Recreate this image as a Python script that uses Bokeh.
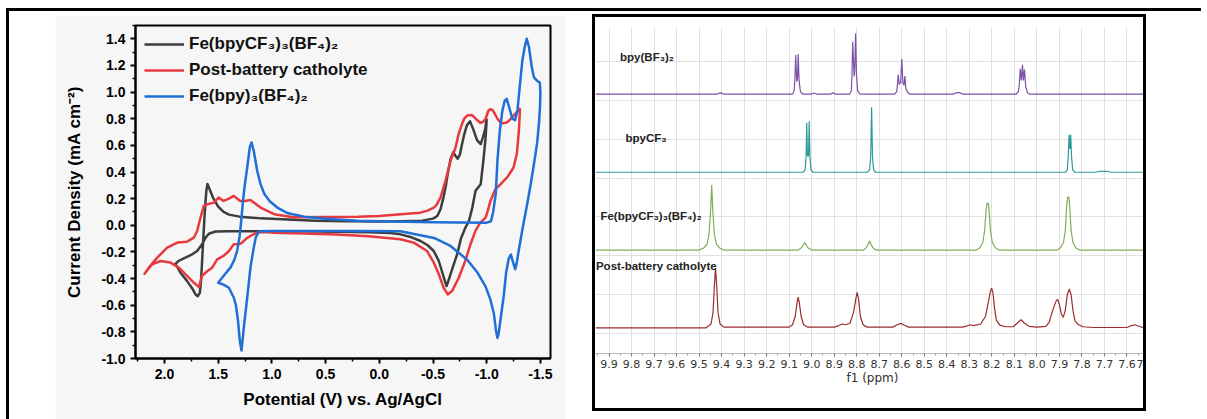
from bokeh.plotting import figure
from bokeh.layouts import row
from bokeh.models import (Range1d, FixedTicker, Legend, LegendItem, Label, Grid,
                          Spacer, NumeralTickFormatter)
from bokeh.embed import file_html
from bokeh.resources import INLINE

# ---------------- Cyclic voltammograms (potential in V, current density in mA cm-2) ----------------
fe_cf3_v = [-1.00, -0.985, -0.965, -0.944, -0.91, -0.875, -0.845, -0.815, -0.79, -0.765,
            -0.75, -0.73, -0.71, -0.69, -0.665, -0.64, -0.62, -0.595, -0.57, -0.54,
            -0.50, -0.40, -0.20, 0.00, 0.30, 0.60, 0.90, 1.10, 1.30, 1.40,
            1.45, 1.50, 1.55, 1.58, 1.60, 1.61, 1.62, 1.63, 1.64, 1.65,
            1.66, 1.671, 1.69, 1.711, 1.742, 1.789, 1.851, 1.898, 1.87, 1.82,
            1.742, 1.696, 1.65, 1.618, 1.587, 1.525, 1.40, 1.20, 1.00, 0.70,
            0.40, 0.10, -0.10, -0.197, -0.30, -0.384, -0.45, -0.507, -0.554, -0.60,
            -0.626, -0.65, -0.69, -0.725, -0.76, -0.80, -0.835, -0.866, -0.896, -0.944,
            -0.969, -0.99, -1.00]
fe_cf3_j = [0.80, 0.72, 0.66, 0.61, 0.64, 0.72, 0.78, 0.75, 0.68, 0.59,
            0.53, 0.50, 0.52, 0.55, 0.50, 0.40, 0.30, 0.20, 0.12, 0.07,
            0.05, 0.035, 0.03, 0.028, 0.03, 0.035, 0.045, 0.052, 0.065, 0.08,
            0.10, 0.14, 0.21, 0.27, 0.31, 0.26, 0.16, 0.03, -0.12, -0.27,
            -0.42, -0.507, -0.532, -0.519, -0.474, -0.419, -0.356, -0.289, -0.268, -0.248,
            -0.218, -0.193, -0.143, -0.093, -0.063, -0.047, -0.045, -0.045, -0.045, -0.045,
            -0.048, -0.052, -0.058, -0.068, -0.09, -0.118, -0.15, -0.193, -0.268, -0.39,
            -0.456, -0.40, -0.30, -0.218, -0.10, -0.02, 0.033, 0.133, 0.259, 0.309,
            0.485, 0.66, 0.80]

post_v = [-1.31, -1.28, -1.25, -1.22, -1.19, -1.15, -1.13, -1.10, -1.08, -1.055,
          -1.035, -1.015, -0.99, -0.965, -0.94, -0.91, -0.88, -0.86, -0.82, -0.79,
          -0.77, -0.74, -0.71, -0.663, -0.616, -0.57, -0.53, -0.507, -0.45, -0.384,
          -0.20, 0.00, 0.20, 0.50, 0.80, 0.98, 1.106, 1.15, 1.20, 1.25,
          1.295, 1.355, 1.40, 1.45, 1.496, 1.54, 1.60, 1.634, 1.665, 1.696,
          1.727, 1.79, 1.88, 1.975, 2.068, 2.146, 2.186, 2.115, 2.037, 1.944,
          1.867, 1.79, 1.727, 1.68, 1.65, 1.60, 1.556, 1.51, 1.45, 1.40,
          1.355, 1.30, 1.277, 1.24, 1.20, 1.15, 1.106, 1.00, 0.70, 0.40,
          0.10, -0.197, -0.32, -0.445, -0.507, -0.554, -0.60, -0.637, -0.677, -0.74,
          -0.80, -0.85, -0.896, -0.94, -0.99, -1.01, -1.035, -1.08, -1.13, -1.19,
          -1.25, -1.28, -1.30, -1.31]
post_j = [0.88, 0.85, 0.823, 0.795, 0.773, 0.765, 0.77, 0.80, 0.83, 0.865,
          0.873, 0.86, 0.80, 0.775, 0.77, 0.79, 0.815, 0.828, 0.825, 0.80,
          0.76, 0.69, 0.584, 0.484, 0.334, 0.208, 0.15, 0.133, 0.11, 0.095,
          0.083, 0.07, 0.065, 0.063, 0.06, 0.083, 0.133, 0.16, 0.19, 0.183,
          0.183, 0.221, 0.20, 0.183, 0.208, 0.17, 0.158, 0.146, 0.058, -0.043,
          -0.093, -0.123, -0.13, -0.168, -0.243, -0.318, -0.364, -0.293, -0.268, -0.28,
          -0.318, -0.38, -0.43, -0.464, -0.38, -0.343, -0.318, -0.255, -0.23, -0.193,
          -0.143, -0.14, -0.13, -0.10, -0.08, -0.06, -0.05, -0.055, -0.062, -0.07,
          -0.082, -0.105, -0.13, -0.193, -0.28, -0.368, -0.47, -0.519, -0.494, -0.394,
          -0.268, -0.14, -0.04, 0.02, 0.058, 0.108, 0.183, 0.27, 0.309, 0.359,
          0.434, 0.535, 0.71, 0.88]

fe_bpy_v = [1.12, 1.15, 1.169, 1.20, 1.23, 1.262, 1.283, 1.30, 1.315, 1.335,
            1.355, 1.40, 1.45, 1.50, 1.46, 1.42, 1.386, 1.35, 1.324, 1.30,
            1.285, 1.269, 1.253, 1.23, 1.206, 1.19, 1.169, 1.137, 1.106, 1.07,
            1.02, 0.95, 0.85, 0.70, 0.50, 0.20, 0.00, -0.50, -1.00, -1.04,
            -1.06, -1.084, -1.10, -1.122, -1.146, -1.168, -1.186, -1.208, -1.239, -1.264,
            -1.286, -1.31, -1.332, -1.354, -1.373, -1.394, -1.42, -1.44, -1.47, -1.495,
            -1.50, -1.497, -1.488, -1.47, -1.44, -1.41, -1.375, -1.335, -1.30, -1.278,
            -1.265, -1.25, -1.225, -1.205, -1.18, -1.16, -1.13, -1.11, -1.099, -1.085,
            -1.066, -1.035, -0.99, -0.91, -0.82, -0.663, -0.51, -0.197, 0.20, 0.60,
            1.00, 1.12]
fe_bpy_j = [-0.045, -0.09, -0.168, -0.318, -0.544, -0.77, -0.94, -0.86, -0.72, -0.60,
            -0.544, -0.469, -0.445, -0.431, -0.39, -0.35, -0.318, -0.26, -0.193, -0.08,
            0.04, 0.183, 0.30, 0.434, 0.584, 0.622, 0.56, 0.409, 0.309, 0.235,
            0.18, 0.133, 0.09, 0.065, 0.05, 0.035, 0.03, 0.022, 0.02, 0.03,
            0.10, 0.234, 0.485, 0.71, 0.86, 0.935, 0.949, 0.89, 0.80, 0.79,
            0.86, 1.06, 1.237, 1.34, 1.40, 1.337, 1.186, 1.11, 1.085, 1.07,
            1.00, 0.90, 0.78, 0.62, 0.46, 0.31, 0.15, -0.02, -0.18, -0.29,
            -0.33, -0.29, -0.22, -0.25, -0.36, -0.52, -0.70, -0.82, -0.845, -0.78,
            -0.66, -0.56, -0.46, -0.35, -0.26, -0.155, -0.095, -0.045, -0.042, -0.043,
            -0.043, -0.045]

cv_labels = ["Fe(bpyCF\u2083)\u2083(BF\u2084)\u2082", "Post-battery catholyte",
             "Fe(bpy)\u2083(BF\u2084)\u2082"]
cv_colors = ["#3d3d3d", "#e8393e", "#1f6fd6"]
cv_x_ticks = [2.0, 1.5, 1.0, 0.5, 0.0, -0.5, -1.0, -1.5]
cv_y_ticks = [-1.0, -0.8, -0.6, -0.4, -0.2, 0.0, 0.2, 0.4, 0.6, 0.8, 1.0, 1.2, 1.4]

# ---------------- 1H NMR spectra (ppm, intensity above each baseline) ----------------
bpy_bf3_ppm = [9.96, 9.42, 9.405, 9.39, 9.085, 9.078, 9.0745, 9.071, 9.0665, 9.063,
               9.060, 9.056, 9.050, 9.040, 9.000, 8.990, 8.980, 8.915, 8.905, 8.895,
               8.832, 8.824, 8.821, 8.818, 8.8115, 8.809, 8.805, 8.801, 8.796, 8.786,
               8.632, 8.622, 8.619, 8.616, 8.611, 8.605, 8.600, 8.595, 8.590, 8.586,
               8.582, 8.574, 8.565, 8.370, 8.355, 8.345, 8.330, 8.092, 8.082, 8.078,
               8.074, 8.069, 8.064, 8.060, 8.055, 8.050, 8.043, 8.035, 7.50]
bpy_bf3_int = [0, 0, 0.3, 0, 0, 0.8, 4.0, 10.0, 3.2, 4.0,
               10.3, 3.5, 0.6, 0, 0, 0.25, 0, 0, 0.3, 0,
               0, 0.8, 5.0, 13.4, 4.5, 6.0, 15.6, 5.0, 0.8, 0,
               0, 0.7, 2.5, 5.0, 2.5, 3.0, 9.0, 2.8, 2.3, 4.6,
               1.5, 0.4, 0, 0, 0.35, 0.35, 0, 0, 0.6, 2.5,
               6.5, 3.5, 7.5, 3.5, 6.3, 2.0, 0.5, 0, 0]

bpycf3_ppm = [9.96, 9.038, 9.029, 9.025, 9.022, 9.019, 9.0165, 9.014, 9.011, 9.008,
              9.003, 8.994, 8.752, 8.743, 8.738, 8.734, 8.730, 8.725, 8.716, 7.874,
              7.865, 7.861, 7.857, 7.8535, 7.850, 7.846, 7.841, 7.832, 7.74, 7.72,
              7.69, 7.67, 7.50]
bpycf3_int = [0, 0, 0.6, 4.0, 12.7, 4.5, 4.0, 4.5, 13.1, 4.0,
              0.6, 0, 0, 0.6, 4.0, 16.7, 4.0, 0.6, 0, 0,
              0.6, 4.0, 9.6, 6.0, 9.6, 4.0, 0.6, 0, 0, 0.25,
              0.25, 0, 0]

fe_cf3_ppm = [9.96, 9.50, 9.48, 9.465, 9.456, 9.449, 9.444, 9.439, 9.432, 9.423,
              9.408, 9.39, 9.06, 9.045, 9.031, 9.017, 9.00, 8.77, 8.756, 8.743,
              8.730, 8.715, 8.27, 8.253, 8.240, 8.232, 8.226, 8.222, 8.216, 8.212,
              8.206, 8.198, 8.185, 8.168, 7.91, 7.895, 7.882, 7.874, 7.868, 7.864,
              7.858, 7.854, 7.848, 7.840, 7.828, 7.81, 7.50]
fe_cf3_int = [0, 0, 0.5, 1.5, 4.0, 10.0, 16.7, 10.0, 4.0, 1.5,
              0.5, 0, 0, 0.6, 1.9, 0.6, 0, 0, 0.7, 2.3,
              0.7, 0, 0, 0.6, 2.0, 5.0, 10.0, 12.0, 12.0, 10.0,
              5.0, 2.0, 0.6, 0, 0, 0.6, 2.0, 5.0, 11.0, 13.6,
              13.6, 11.0, 5.0, 2.0, 0.6, 0, 0]

post_ppm = [9.96, 9.47, 9.447, 9.438, 9.432, 9.427, 9.422, 9.416, 9.407, 9.39,
            9.10, 9.085, 9.073, 9.065, 9.060, 9.055, 9.047, 9.036, 9.02, 8.90,
            8.88, 8.865, 8.85, 8.83, 8.814, 8.804, 8.798, 8.792, 8.784, 8.772,
            8.755, 8.64, 8.62, 8.603, 8.588, 8.57, 8.33, 8.31, 8.297, 8.28,
            8.25, 8.228, 8.216, 8.206, 8.201, 8.195, 8.188, 8.180, 8.165, 8.14,
            8.105, 8.088, 8.070, 8.055, 8.035, 8.00, 7.96, 7.945, 7.93, 7.914,
            7.908, 7.900, 7.891, 7.883, 7.874, 7.865, 7.856, 7.848, 7.840, 7.831,
            7.815, 7.795, 7.75, 7.60, 7.58, 7.564, 7.55, 7.53, 7.50]
post_int = [0, 0, 1.0, 4.0, 11.0, 15.4, 11.0, 4.0, 1.0, 0.2,
            0.2, 0.8, 3.0, 6.5, 7.9, 6.5, 3.0, 0.8, 0.2, 0.2,
            0.6, 1.0, 0.8, 1.2, 4.0, 7.5, 9.1, 7.5, 3.0, 0.8,
            0.2, 0.2, 0.8, 1.15, 0.7, 0.2, 0.2, 0.5, 0.8, 0.6,
            1.0, 3.0, 6.5, 9.5, 10.2, 9.0, 5.0, 2.0, 0.7, 0.3,
            0.3, 1.2, 2.1, 1.2, 0.4, 0.2, 0.4, 1.5, 4.5, 7.0,
            7.3, 6.0, 3.5, 2.7, 4.5, 8.5, 10.0, 8.5, 4.5, 1.8,
            0.8, 0.3, 0.1, 0.1, 0.6, 0.8, 0.5, 0.1, 0.0]

nmr_names = ["bpy(BF\u2083)\u2082", "bpyCF\u2083", "Fe(bpyCF\u2083)\u2083(BF\u2084)\u2082",
             "Post-battery catholyte"]
nmr_colors = ["#7b52a6", "#2f9a97", "#80ad58", "#9c2c2e"]
nmr_ticks = [9.9, 9.8, 9.7, 9.6, 9.5, 9.4, 9.3, 9.2, 9.1, 9.0, 8.9, 8.8, 8.7,
             8.6, 8.5, 8.4, 8.3, 8.2, 8.1, 8.0, 7.9, 7.8, 7.7, 7.6, 7.5]

BOLD = "Liberation Sans"
BG = "#f6f6f6"

# ---------------- left panel: CV ----------------
cv = figure(width=510, height=404, x_range=Range1d(2.27, -1.594), y_range=Range1d(-1.0, 1.5),
            output_backend="svg", toolbar_location=None,
            min_border_left=80, min_border_right=15, min_border_top=10, min_border_bottom=61,
            background_fill_color=BG, border_fill_color=BG, margin=(4, 0, 0, 46))
cv.grid.visible = False
cv.outline_line_color = "black"
cv.outline_line_width = 2

cv.xaxis.ticker = FixedTicker(ticks=cv_x_ticks,
                              minor_ticks=[t - 0.25 for t in cv_x_ticks] + [2.25])
cv.yaxis.ticker = FixedTicker(ticks=cv_y_ticks,
                              minor_ticks=[t + 0.1 for t in cv_y_ticks])
for ax in (cv.xaxis[0], cv.yaxis[0]):
    ax.formatter = NumeralTickFormatter(format="0.0")
    ax.axis_line_width = 2
    ax.axis_line_color = "black"
    ax.major_tick_line_width = 2
    ax.minor_tick_line_width = 1.5
    ax.major_tick_in = 0
    ax.major_tick_out = 5
    ax.minor_tick_in = 0
    ax.minor_tick_out = 3
    ax.major_label_text_font = BOLD
    ax.major_label_text_font_style = "bold"
    ax.major_label_text_font_size = "14px"
    ax.major_label_text_color = "black"
    ax.major_label_standoff = 5
    ax.axis_label_text_font = BOLD
    ax.axis_label_text_font_style = "bold"
    ax.axis_label_text_font_size = "17px"
    ax.axis_label_text_color = "black"
cv.xaxis.axis_label = "Potential (V) vs. Ag/AgCl"
cv.xaxis.axis_label_standoff = 8
cv.yaxis.axis_label = "Current Density (mA cm\u207b\u00b2)"
cv.yaxis.axis_label_standoff = 14

curves = []
for vs, js, col in ((fe_cf3_v, fe_cf3_j, cv_colors[0]),
                    (post_v, post_j, cv_colors[1]),
                    (fe_bpy_v, fe_bpy_j, cv_colors[2])):
    curves.append(cv.line(vs + vs[:1], js + js[:1], line_color=col, line_width=2.5,
                          line_join="round"))

legend = Legend(items=[LegendItem(label=lab, renderers=[r]) for lab, r in zip(cv_labels, curves)],
                location="top_left", margin=0, padding=9, spacing=6,
                glyph_width=40, glyph_height=20, label_height=20, label_standoff=5,
                label_text_font=BOLD, label_text_font_style="bold",
                label_text_font_size="17px", label_text_color="#111111",
                background_fill_alpha=0, border_line_alpha=0)
cv.add_layout(legend)

# ---------------- right panel: stacked NMR ----------------
nmr = figure(width=554, height=397, x_range=Range1d(9.96, 7.5), y_range=Range1d(-5.08, 78.7),
             output_backend="svg", toolbar_location=None, y_axis_location=None,
             min_border_left=0, min_border_right=0, min_border_top=0, min_border_bottom=34,
             background_fill_color="white", border_fill_color="white",
             margin=(3, 0, 0, 27), styles={"border": "3px solid black"})
nmr.outline_line_color = None
nmr.xgrid.ticker = FixedTicker(ticks=nmr_ticks)
nmr.xgrid.grid_line_color = "#e0e0e0"
nmr.add_layout(Grid(dimension=1, ticker=FixedTicker(ticks=[0, 10, 20, 30, 40, 50, 60, 70]),
                    grid_line_color="#e0e0e0"))

xa = nmr.xaxis[0]
xa.ticker = FixedTicker(ticks=nmr_ticks, minor_ticks=[t + 0.05 for t in nmr_ticks])
xa.formatter = NumeralTickFormatter(format="0.0")
# the last tick sits on the right edge of the box, where only its first digit shows
xa.major_label_overrides = {7.5: "7"}
xa.axis_line_color = "#b8b8b8"
xa.major_tick_line_color = "#777777"
xa.minor_tick_line_color = "#9a9a9a"
xa.major_tick_in = 0
xa.major_tick_out = 3
xa.minor_tick_in = 0
xa.minor_tick_out = 2
xa.major_label_text_font = "DejaVu Sans"
xa.major_label_text_font_size = "11px"
xa.major_label_text_color = "#333333"
xa.major_label_standoff = 3
xa.axis_label = "f1 (ppm)"
xa.axis_label_text_font = "DejaVu Sans"
xa.axis_label_text_font_style = "normal"
xa.axis_label_text_font_size = "12px"
xa.axis_label_text_color = "#333333"
xa.axis_label_standoff = 0

baselines = [61.6, 41.5, 21.5, 1.5]
spectra = [(bpy_bf3_ppm, bpy_bf3_int), (bpycf3_ppm, bpycf3_int),
           (fe_cf3_ppm, fe_cf3_int), (post_ppm, post_int)]
for (ppm, inten), base, col in zip(spectra, baselines, nmr_colors):
    nmr.line(ppm, [base + v for v in inten], line_color=col, line_width=1.2)

label_pos = [(9.851, 71.1), (9.827, 50.3), (9.938, 30.2), (9.958, 17.5)]
for name, (lx, ly) in zip(nmr_names, label_pos):
    nmr.add_layout(Label(x=lx, y=ly, text=name, text_baseline="middle", text_align="left",
                         text_font=BOLD, text_font_style="bold", text_font_size="11.5px",
                         text_color="#222222"))

root = row(cv, nmr, Spacer(width=55, height=10), margin=(8, 0, 0, 6),
           styles={"border-top": "3px solid black", "border-left": "3px solid black"})

with open("out.html", "w") as f:
    f.write(file_html(root, INLINE))
